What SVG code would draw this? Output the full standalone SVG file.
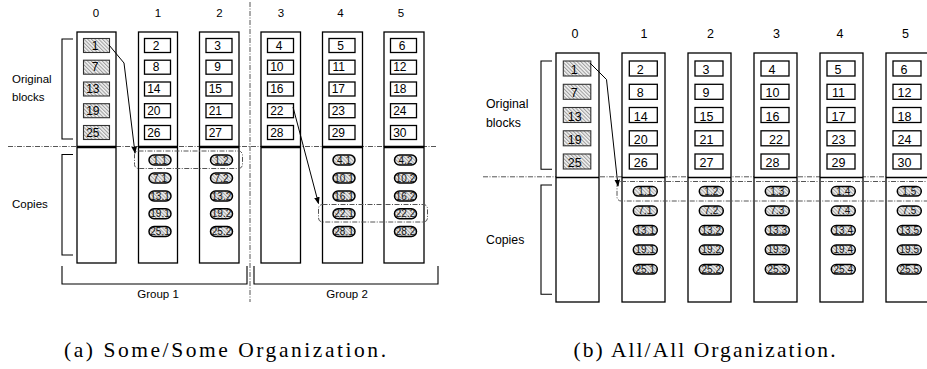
<svg xmlns="http://www.w3.org/2000/svg" width="927" height="369" viewBox="0 0 927 369">
  <defs>
    <!-- diagonal hatch for original blocks that are replicated -->
    <pattern id="hatchBlock" width="2.6" height="2.6" patternUnits="userSpaceOnUse" patternTransform="rotate(-45)">
      <rect width="2.6" height="2.6" fill="#f4f4f4"/>
      <line x1="0.6" y1="0" x2="0.6" y2="2.6" stroke="#8c8c8c" stroke-width="0.9"/>
    </pattern>
    <!-- hatch for copies -->
    <pattern id="hatchCopy" width="2.6" height="2.6" patternUnits="userSpaceOnUse" patternTransform="rotate(-45)">
      <rect width="2.6" height="2.6" fill="#f0f0f0"/>
      <line x1="0.6" y1="0" x2="0.6" y2="2.6" stroke="#9a9a9a" stroke-width="0.9"/>
    </pattern>
    <marker id="arrow" viewBox="0 0 10 10" refX="9" refY="5" markerWidth="7" markerHeight="7" orient="auto" markerUnits="userSpaceOnUse">
      <path d="M0,1 L10,5 L0,9 z" fill="#000"/>
    </marker>
  </defs>
  <style>
    .col { fill: #fff; stroke: #000; stroke-width: 1.3; }
    .blk { fill: #fff; stroke: #000; stroke-width: 1.3; }
    .blk.h { fill: url(#hatchBlock); stroke: #333; stroke-width: 1.1; }
    .cp { fill: url(#hatchCopy); stroke: #000; stroke-width: 1.5; }
    .num { font-family: "Liberation Sans", Arial, sans-serif; font-size: 12px; fill: #000; }
    .numa { text-anchor: end; }
    .numb { text-anchor: middle; font-size: 12.5px; }
    .cpt { font-family: "Liberation Sans", Arial, sans-serif; font-size: 10px; text-anchor: middle; fill: #111; }
    .hdr { font-family: "Liberation Sans", Arial, sans-serif; font-size: 11.5px; text-anchor: middle; fill: #000; }
    .hdrb { font-size: 12.5px; }
    .lbl { font-family: "Liberation Sans", Arial, sans-serif; font-size: 11.5px; fill: #000; }
    .lblb { font-size: 12.3px; }
    .brk { fill: none; stroke: #000; stroke-width: 1.1; }
    .dd { fill: none; stroke: #555; stroke-width: 1; stroke-dasharray: 5 1.5 1 1.5; }
    .bold { stroke: #000; stroke-width: 2.6; }
    .thin { stroke: #000; stroke-width: 1.3; }
    .conn { fill: none; stroke: #000; stroke-width: 1; marker-end: url(#arrow); }
    .cap { font-family: "Liberation Serif", "Times New Roman", serif; font-size: 21.5px; text-anchor: middle; fill: #000; }
  </style>

  <!-- ============ (a) Some/Some organization ============ -->
  <g id="a-separators">
    <line class="dd" x1="8" y1="146.5" x2="436" y2="146.5"/>
    <line class="dd" x1="250" y1="2" x2="250" y2="302"/>
  </g>

  <g id="a-labels">
    <text class="lbl" x="12" y="83">Original</text>
    <text class="lbl" x="12" y="100.5">blocks</text>
    <text class="lbl" x="12" y="208">Copies</text>
    <path class="brk" d="M73,39 H62 V139 H73"/>
    <path class="brk" d="M73,154.5 H62 V255 H73"/>
  </g>

  <g id="a-col0">
    <text class="hdr" x="96" y="17">0</text>
    <rect class="col" x="77" y="32" width="39" height="231"/>
    <line class="bold" x1="77" y1="147" x2="116" y2="147"/>
    <rect class="blk h" x="83.5" y="38.5" width="26" height="14"/><text class="num numa" x="98.5" y="49.5">1</text>
    <rect class="blk h" x="83.5" y="60.2" width="26" height="14"/><text class="num numa" x="98.5" y="71.2">7</text>
    <rect class="blk h" x="83.5" y="82" width="26" height="14"/><text class="num numa" x="99.5" y="93">13</text>
    <rect class="blk h" x="83.5" y="103.7" width="26" height="14"/><text class="num numa" x="99.5" y="114.7">19</text>
    <rect class="blk h" x="83.5" y="125.5" width="26" height="14"/><text class="num numa" x="99.5" y="136.5">25</text>
  </g>

  <g id="a-col1">
    <text class="hdr" x="158" y="17">1</text>
    <rect class="col" x="138.5" y="32" width="39" height="231"/>
    <line class="bold" x1="138.5" y1="147" x2="177.5" y2="147"/>
    <rect class="blk" x="144.5" y="38.5" width="26" height="14"/><text class="num numa" x="159.5" y="49.5">2</text>
    <rect class="blk" x="144.5" y="60.2" width="26" height="14"/><text class="num numa" x="159.5" y="71.2">8</text>
    <rect class="blk" x="144.5" y="82" width="26" height="14"/><text class="num numa" x="160.5" y="93">14</text>
    <rect class="blk" x="144.5" y="103.7" width="26" height="14"/><text class="num numa" x="160.5" y="114.7">20</text>
    <rect class="blk" x="144.5" y="125.5" width="26" height="14"/><text class="num numa" x="160.5" y="136.5">26</text>
    <rect class="cp" x="149" y="155" width="22" height="10" rx="5"/><text class="cpt" x="160" y="163.5">1.1</text>
    <rect class="cp" x="149" y="173" width="22" height="10" rx="5"/><text class="cpt" x="160" y="181.5">7.1</text>
    <rect class="cp" x="149" y="191" width="22" height="10" rx="5"/><text class="cpt" x="160" y="199.5">13.1</text>
    <rect class="cp" x="149" y="208.8" width="22" height="10" rx="5"/><text class="cpt" x="160" y="217.3">19.1</text>
    <rect class="cp" x="149" y="226.5" width="22" height="10" rx="5"/><text class="cpt" x="160" y="235">25.1</text>
  </g>

  <g id="a-col2">
    <text class="hdr" x="219.5" y="17">2</text>
    <rect class="col" x="199.5" y="32" width="39.5" height="231"/>
    <line class="bold" x1="199.5" y1="147" x2="239" y2="147"/>
    <rect class="blk" x="206" y="38.5" width="26" height="14"/><text class="num numa" x="221" y="49.5">3</text>
    <rect class="blk" x="206" y="60.2" width="26" height="14"/><text class="num numa" x="221" y="71.2">9</text>
    <rect class="blk" x="206" y="82" width="26" height="14"/><text class="num numa" x="222" y="93">15</text>
    <rect class="blk" x="206" y="103.7" width="26" height="14"/><text class="num numa" x="222" y="114.7">21</text>
    <rect class="blk" x="206" y="125.5" width="26" height="14"/><text class="num numa" x="222" y="136.5">27</text>
    <rect class="cp" x="210.5" y="155" width="22" height="10" rx="5"/><text class="cpt" x="221.5" y="163.5">1.2</text>
    <rect class="cp" x="210.5" y="173" width="22" height="10" rx="5"/><text class="cpt" x="221.5" y="181.5">7.2</text>
    <rect class="cp" x="210.5" y="191" width="22" height="10" rx="5"/><text class="cpt" x="221.5" y="199.5">13.2</text>
    <rect class="cp" x="210.5" y="208.8" width="22" height="10" rx="5"/><text class="cpt" x="221.5" y="217.3">19.2</text>
    <rect class="cp" x="210.5" y="226.5" width="22" height="10" rx="5"/><text class="cpt" x="221.5" y="235">25.2</text>
  </g>

  <g id="a-col3">
    <text class="hdr" x="281" y="17">3</text>
    <rect class="col" x="261" y="32" width="39.5" height="231"/>
    <line class="bold" x1="261" y1="147" x2="300.5" y2="147"/>
    <rect class="blk" x="267.5" y="38.5" width="26" height="14"/><text class="num numa" x="282.5" y="49.5">4</text>
    <rect class="blk" x="267.5" y="60.2" width="26" height="14"/><text class="num numa" x="283.5" y="71.2">10</text>
    <rect class="blk" x="267.5" y="82" width="26" height="14"/><text class="num numa" x="283.5" y="93">16</text>
    <rect class="blk" x="267.5" y="103.7" width="26" height="14"/><text class="num numa" x="283.5" y="114.7">22</text>
    <rect class="blk" x="267.5" y="125.5" width="26" height="14"/><text class="num numa" x="283.5" y="136.5">28</text>
  </g>

  <g id="a-col4">
    <text class="hdr" x="340.5" y="17">4</text>
    <rect class="col" x="322.5" y="32" width="40" height="231"/>
    <line class="bold" x1="322.5" y1="147" x2="362.5" y2="147"/>
    <rect class="blk" x="329" y="38.5" width="26" height="14"/><text class="num numa" x="344" y="49.5">5</text>
    <rect class="blk" x="329" y="60.2" width="26" height="14"/><text class="num numa" x="345" y="71.2">11</text>
    <rect class="blk" x="329" y="82" width="26" height="14"/><text class="num numa" x="345" y="93">17</text>
    <rect class="blk" x="329" y="103.7" width="26" height="14"/><text class="num numa" x="345" y="114.7">23</text>
    <rect class="blk" x="329" y="125.5" width="26" height="14"/><text class="num numa" x="345" y="136.5">29</text>
    <rect class="cp" x="333" y="155" width="22" height="10" rx="5"/><text class="cpt" x="344" y="163.5">4.1</text>
    <rect class="cp" x="333" y="173" width="22" height="10" rx="5"/><text class="cpt" x="344" y="181.5">10.1</text>
    <rect class="cp" x="333" y="191" width="22" height="10" rx="5"/><text class="cpt" x="344" y="199.5">16.1</text>
    <rect class="cp" x="333" y="208.8" width="22" height="10" rx="5"/><text class="cpt" x="344" y="217.3">22.1</text>
    <rect class="cp" x="333" y="226.5" width="22" height="10" rx="5"/><text class="cpt" x="344" y="235">28.1</text>
  </g>

  <g id="a-col5">
    <text class="hdr" x="401" y="17">5</text>
    <rect class="col" x="384" y="32" width="40" height="231"/>
    <line class="bold" x1="384" y1="147" x2="424" y2="147"/>
    <rect class="blk" x="390.5" y="38.5" width="26" height="14"/><text class="num numa" x="405.5" y="49.5">6</text>
    <rect class="blk" x="390.5" y="60.2" width="26" height="14"/><text class="num numa" x="406.5" y="71.2">12</text>
    <rect class="blk" x="390.5" y="82" width="26" height="14"/><text class="num numa" x="406.5" y="93">18</text>
    <rect class="blk" x="390.5" y="103.7" width="26" height="14"/><text class="num numa" x="406.5" y="114.7">24</text>
    <rect class="blk" x="390.5" y="125.5" width="26" height="14"/><text class="num numa" x="406.5" y="136.5">30</text>
    <rect class="cp" x="394.5" y="155" width="22" height="10" rx="5"/><text class="cpt" x="405.5" y="163.5">4.2</text>
    <rect class="cp" x="394.5" y="173" width="22" height="10" rx="5"/><text class="cpt" x="405.5" y="181.5">10.2</text>
    <rect class="cp" x="394.5" y="191" width="22" height="10" rx="5"/><text class="cpt" x="405.5" y="199.5">16.2</text>
    <rect class="cp" x="394.5" y="208.8" width="22" height="10" rx="5"/><text class="cpt" x="405.5" y="217.3">22.2</text>
    <rect class="cp" x="394.5" y="226.5" width="22" height="10" rx="5"/><text class="cpt" x="405.5" y="235">28.2</text>
  </g>

  <g id="a-groups">
    <path class="brk" d="M62,266 V284 H247 V266"/>
    <path class="brk" d="M254,266 V284 H438 V266"/>
    <text class="hdr" x="158" y="298">Group 1</text>
    <text class="hdr" x="347" y="298">Group 2</text>
  </g>

  <g id="a-connectors">
    <rect class="dd" x="134.5" y="151" width="108" height="17.5" rx="4"/>
    <rect class="dd" x="318.5" y="204.5" width="109" height="17.5" rx="4"/>
    <polyline class="conn" points="109,45 124,63 135,153"/>
    <polyline class="conn" points="293,107 318.5,203.5"/>
  </g>

  <!-- ============ (b) All/All organization ============ -->
  <g id="b-separators">
    <line class="dd" x1="483" y1="176.8" x2="927" y2="176.8"/>
  </g>

  <g id="b-labels">
    <text class="lbl lblb" x="486" y="108">Original</text>
    <text class="lbl lblb" x="486" y="127">blocks</text>
    <text class="lbl lblb" x="486" y="244">Copies</text>
    <path class="brk" d="M552,61 H541 V169.3 H552"/>
    <path class="brk" d="M552,185 H541 V294.3 H552"/>
  </g>

  <g id="b-col0">
    <text class="hdr hdrb" x="575" y="38.3">0</text>
    <rect class="col" x="556" y="53" width="43" height="249"/>
    <line class="thin" x1="556" y1="177.5" x2="599" y2="177.5"/>
    <rect class="blk h" x="563.3" y="61" width="27.5" height="15"/><text class="num numb" x="574.3" y="74">1</text>
    <rect class="blk h" x="563.3" y="84.3" width="27.5" height="15"/><text class="num numb" x="574.3" y="97.3">7</text>
    <rect class="blk h" x="563.3" y="107.5" width="27.5" height="15"/><text class="num numb" x="574.8" y="120.5">13</text>
    <rect class="blk h" x="563.3" y="130.8" width="27.5" height="15"/><text class="num numb" x="574.8" y="143.8">19</text>
    <rect class="blk h" x="563.3" y="154" width="27.5" height="15"/><text class="num numb" x="574.8" y="167">25</text>
  </g>

  <g id="b-col1">
    <text class="hdr hdrb" x="644" y="38.3">1</text>
    <rect class="col" x="622" y="53" width="43" height="249"/>
    <line class="thin" x1="622" y1="177.5" x2="665" y2="177.5"/>
    <rect class="blk" x="629.3" y="61" width="28" height="15"/><text class="num numb" x="640.3" y="74">2</text>
    <rect class="blk" x="629.3" y="84.3" width="28" height="15"/><text class="num numb" x="640.3" y="97.3">8</text>
    <rect class="blk" x="629.3" y="107.5" width="28" height="15"/><text class="num numb" x="640.8" y="120.5">14</text>
    <rect class="blk" x="629.3" y="130.8" width="28" height="15"/><text class="num numb" x="640.8" y="143.8">20</text>
    <rect class="blk" x="629.3" y="154" width="28" height="15"/><text class="num numb" x="640.8" y="167">26</text>
    <rect class="cp" x="633.3" y="186.5" width="24" height="9.6" rx="4.8"/><text class="cpt" x="645.3" y="194.8">1.1</text>
    <rect class="cp" x="633.3" y="206" width="24" height="9.6" rx="4.8"/><text class="cpt" x="645.3" y="214.3">7.1</text>
    <rect class="cp" x="633.3" y="225.5" width="24" height="9.6" rx="4.8"/><text class="cpt" x="645.3" y="233.8">13.1</text>
    <rect class="cp" x="633.3" y="245" width="24" height="9.6" rx="4.8"/><text class="cpt" x="645.3" y="253.3">19.1</text>
    <rect class="cp" x="633.3" y="264.5" width="24" height="9.6" rx="4.8"/><text class="cpt" x="645.3" y="272.8">25.1</text>
  </g>

  <g id="b-col2">
    <text class="hdr hdrb" x="710.5" y="38.3">2</text>
    <rect class="col" x="688" y="53" width="43" height="249"/>
    <line class="thin" x1="688" y1="177.5" x2="731" y2="177.5"/>
    <rect class="blk" x="695" y="61" width="28" height="15"/><text class="num numb" x="706" y="74">3</text>
    <rect class="blk" x="695" y="84.3" width="28" height="15"/><text class="num numb" x="706" y="97.3">9</text>
    <rect class="blk" x="695" y="107.5" width="28" height="15"/><text class="num numb" x="706.5" y="120.5">15</text>
    <rect class="blk" x="695" y="130.8" width="28" height="15"/><text class="num numb" x="706.5" y="143.8">21</text>
    <rect class="blk" x="695" y="154" width="28" height="15"/><text class="num numb" x="706.5" y="167">27</text>
    <rect class="cp" x="699.3" y="186.5" width="24" height="9.6" rx="4.8"/><text class="cpt" x="711.3" y="194.8">1.2</text>
    <rect class="cp" x="699.3" y="206" width="24" height="9.6" rx="4.8"/><text class="cpt" x="711.3" y="214.3">7.2</text>
    <rect class="cp" x="699.3" y="225.5" width="24" height="9.6" rx="4.8"/><text class="cpt" x="711.3" y="233.8">13.2</text>
    <rect class="cp" x="699.3" y="245" width="24" height="9.6" rx="4.8"/><text class="cpt" x="711.3" y="253.3">19.2</text>
    <rect class="cp" x="699.3" y="264.5" width="24" height="9.6" rx="4.8"/><text class="cpt" x="711.3" y="272.8">25.2</text>
  </g>

  <g id="b-col3">
    <text class="hdr hdrb" x="776.5" y="38.3">3</text>
    <rect class="col" x="754" y="53" width="43" height="249"/>
    <line class="thin" x1="754" y1="177.5" x2="797" y2="177.5"/>
    <rect class="blk" x="761" y="61" width="28" height="15"/><text class="num numb" x="772" y="74">4</text>
    <rect class="blk" x="761" y="84.3" width="28" height="15"/><text class="num numb" x="772.5" y="97.3">10</text>
    <rect class="blk" x="761" y="107.5" width="28" height="15"/><text class="num numb" x="772.5" y="120.5">16</text>
    <rect class="blk" x="761" y="130.8" width="28" height="15"/><text class="num numb" x="776" y="143.8">22</text>
    <rect class="blk" x="761" y="154" width="28" height="15"/><text class="num numb" x="772.5" y="167">28</text>
    <rect class="cp" x="765.3" y="186.5" width="24" height="9.6" rx="4.8"/><text class="cpt" x="777.3" y="194.8">1.3</text>
    <rect class="cp" x="765.3" y="206" width="24" height="9.6" rx="4.8"/><text class="cpt" x="777.3" y="214.3">7.3</text>
    <rect class="cp" x="765.3" y="225.5" width="24" height="9.6" rx="4.8"/><text class="cpt" x="777.3" y="233.8">13.3</text>
    <rect class="cp" x="765.3" y="245" width="24" height="9.6" rx="4.8"/><text class="cpt" x="777.3" y="253.3">19.3</text>
    <rect class="cp" x="765.3" y="264.5" width="24" height="9.6" rx="4.8"/><text class="cpt" x="777.3" y="272.8">25.3</text>
  </g>

  <g id="b-col4">
    <text class="hdr hdrb" x="840" y="38.3">4</text>
    <rect class="col" x="820" y="53" width="43" height="249"/>
    <line class="thin" x1="820" y1="177.5" x2="863" y2="177.5"/>
    <rect class="blk" x="827" y="61" width="28" height="15"/><text class="num numb" x="838" y="74">5</text>
    <rect class="blk" x="827" y="84.3" width="28" height="15"/><text class="num numb" x="838.5" y="97.3">11</text>
    <rect class="blk" x="827" y="107.5" width="28" height="15"/><text class="num numb" x="838.5" y="120.5">17</text>
    <rect class="blk" x="827" y="130.8" width="28" height="15"/><text class="num numb" x="838.5" y="143.8">23</text>
    <rect class="blk" x="827" y="154" width="28" height="15"/><text class="num numb" x="838.5" y="167">29</text>
    <rect class="cp" x="831.3" y="186.5" width="24" height="9.6" rx="4.8"/><text class="cpt" x="843.3" y="194.8">1.4</text>
    <rect class="cp" x="831.3" y="206" width="24" height="9.6" rx="4.8"/><text class="cpt" x="843.3" y="214.3">7.4</text>
    <rect class="cp" x="831.3" y="225.5" width="24" height="9.6" rx="4.8"/><text class="cpt" x="843.3" y="233.8">13.4</text>
    <rect class="cp" x="831.3" y="245" width="24" height="9.6" rx="4.8"/><text class="cpt" x="843.3" y="253.3">19.4</text>
    <rect class="cp" x="831.3" y="264.5" width="24" height="9.6" rx="4.8"/><text class="cpt" x="843.3" y="272.8">25.4</text>
  </g>

  <g id="b-col5">
    <text class="hdr hdrb" x="905.5" y="38.3">5</text>
    <rect class="col" x="886" y="53" width="43" height="249"/>
    <line class="thin" x1="886" y1="177.5" x2="929" y2="177.5"/>
    <rect class="blk" x="893" y="61" width="28" height="15"/><text class="num numb" x="904" y="74">6</text>
    <rect class="blk" x="893" y="84.3" width="28" height="15"/><text class="num numb" x="904.5" y="97.3">12</text>
    <rect class="blk" x="893" y="107.5" width="28" height="15"/><text class="num numb" x="904.5" y="120.5">18</text>
    <rect class="blk" x="893" y="130.8" width="28" height="15"/><text class="num numb" x="904.5" y="143.8">24</text>
    <rect class="blk" x="893" y="154" width="28" height="15"/><text class="num numb" x="904.5" y="167">30</text>
    <rect class="cp" x="897.3" y="186.5" width="24" height="9.6" rx="4.8"/><text class="cpt" x="909.3" y="194.8">1.5</text>
    <rect class="cp" x="897.3" y="206" width="24" height="9.6" rx="4.8"/><text class="cpt" x="909.3" y="214.3">7.5</text>
    <rect class="cp" x="897.3" y="225.5" width="24" height="9.6" rx="4.8"/><text class="cpt" x="909.3" y="233.8">13.5</text>
    <rect class="cp" x="897.3" y="245" width="24" height="9.6" rx="4.8"/><text class="cpt" x="909.3" y="253.3">19.5</text>
    <rect class="cp" x="897.3" y="264.5" width="24" height="9.6" rx="4.8"/><text class="cpt" x="909.3" y="272.8">25.5</text>
  </g>

  <g id="b-connectors">
    <rect class="dd" x="617" y="181.5" width="330" height="19.5" rx="4"/>
    <polyline class="conn" points="590,63 606.5,79.5 618,186"/>
  </g>

  <!-- captions -->
  <text class="cap" x="225" y="357" textLength="322" lengthAdjust="spacing">(a) Some/Some Organization.</text>
  <text class="cap" x="704.5" y="357" textLength="262" lengthAdjust="spacing">(b) All/All Organization.</text>
</svg>
